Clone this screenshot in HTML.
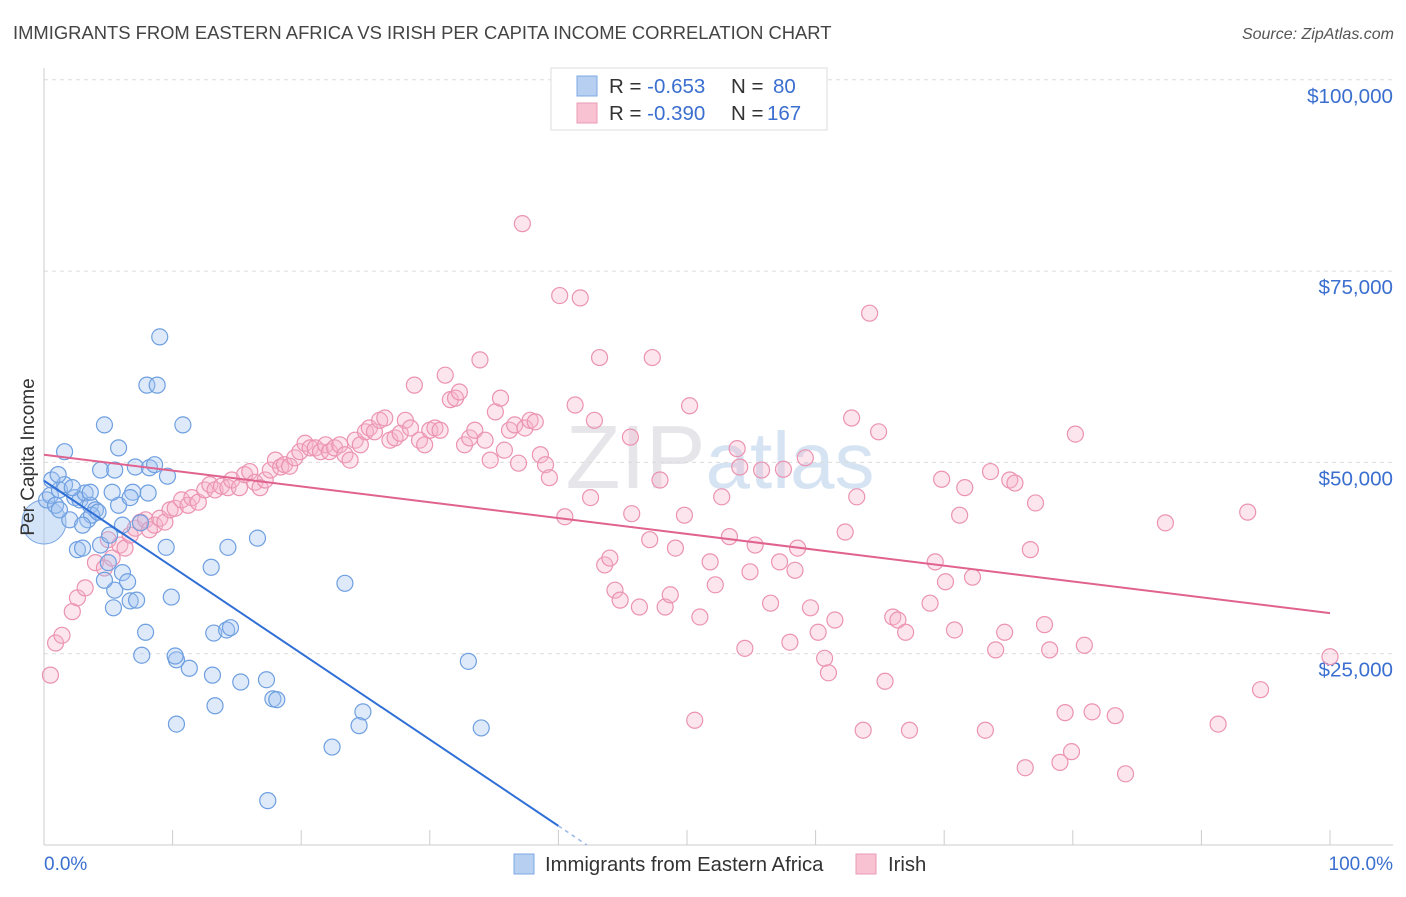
<!DOCTYPE html>
<html><head><meta charset="utf-8"><style>
body{margin:0;background:#fff;font-family:"Liberation Sans",sans-serif;}
svg text{font-family:"Liberation Sans",sans-serif;}
</style></head><body>
<svg id="chart" width="1406" height="892" xmlns="http://www.w3.org/2000/svg">
<text x="13" y="39" font-size="18.4" fill="#444">IMMIGRANTS FROM EASTERN AFRICA VS IRISH PER CAPITA INCOME CORRELATION CHART</text>
<text x="1394" y="39" font-size="16" fill="#555" text-anchor="end" font-style="italic">Source: ZipAtlas.com</text>
<text x="720" y="488" font-size="90" fill="#e6e6ea" text-anchor="middle" font-family="Liberation Serif">ZIP<tspan fill="#d5e3f3" font-family="Liberation Sans" font-size="80">atlas</tspan></text>
<g id="grid"></g>
<g id="axes"></g>
<g id="pts"></g>
<g id="trends"></g>
<text transform="translate(34,457) rotate(-90)" font-size="19" fill="#333" text-anchor="middle">Per Capita Income</text>
<text x="44" y="870" font-size="19" fill="#3a6fd0">0.0%</text>
<text x="1393" y="870" font-size="19" fill="#3a6fd0" text-anchor="end">100.0%</text>
<g>
<rect x="551" y="68" width="276" height="62" fill="#fff" stroke="#ddd"/>
<rect x="577" y="76" width="20" height="20" fill="#b7d0f2" stroke="#7ea9e3"/>
<rect x="577" y="103" width="20" height="20" fill="#f8c2d3" stroke="#eb9bb6"/>
<text x="609" y="93" font-size="20.5" fill="#333">R = <tspan fill="#3a6fd0">-0.653</tspan><tspan x="731">N = </tspan><tspan fill="#3a6fd0" x="773">80</tspan></text>
<text x="609" y="120" font-size="20.5" fill="#333">R = <tspan fill="#3a6fd0">-0.390</tspan><tspan x="731">N = </tspan><tspan fill="#3a6fd0" x="767">167</tspan></text>
</g>
<g>
<rect x="514" y="854" width="20" height="20" fill="#b7d0f2" stroke="#7ea9e3"/>
<text x="545" y="871" font-size="20.3" fill="#333">Immigrants from Eastern Africa</text>
<rect x="856" y="854" width="20" height="20" fill="#f8c2d3" stroke="#eb9bb6"/>
<text x="888" y="871" font-size="20.3" fill="#333">Irish</text>
</g>
</svg>
<script>
const yTicks=[25000,50000,75000,100000];
const yTickLabels=["$25,000","$50,000","$75,000","$100,000"];
const xTicks=[0,10,20,30,40,50,60,70,80,90,100];
const blueX=[0.2,0.5,0.9,1.2,1.6,0.6,1.1,1.6,2.4,2.8,3.2,3.6,4.0,4.4,3.4,3.7,4.2,2.0,2.6,3.0,4.4,4.7,5.8,5.5,5.8,6.1,5.1,5.0,5.5,6.1,6.5,6.7,5.4,6.9,7.1,8.1,8.2,8.6,9.6,8.0,8.8,9.0,10.8,7.5,9.5,9.9,7.9,7.6,10.3,11.3,10.2,13.0,14.3,16.6,13.2,14.2,14.5,13.1,13.3,15.3,17.3,17.8,18.1,10.3,23.4,24.8,24.5,22.4,17.4,33.0,34.0,7.2,4.7,3.6,2.2,1.2,3.0,5.3,6.7];
const blueY=[45.1,45.7,44.4,46.4,47.1,47.7,48.4,51.4,45.4,45.1,46.0,44.4,43.8,49.0,42.5,43.1,43.5,42.5,38.6,38.8,39.2,54.9,51.9,49.0,44.4,41.8,40.5,36.9,33.3,35.6,34.4,31.9,31.0,46.1,49.4,46.0,49.3,49.7,48.2,60.1,60.1,66.4,54.9,42.1,38.9,32.4,27.8,24.8,24.2,23.1,24.7,36.3,38.9,40.1,27.7,28.1,28.4,22.2,18.2,21.3,21.6,19.1,19.0,15.8,34.2,17.4,15.6,12.8,5.8,24.0,15.3,32.0,34.6,46.1,46.7,43.8,41.8,46.1,45.4];
const pinkX=[0.5,0.9,1.4,2.2,2.6,3.2,4.0,4.7,5.0,5.3,5.9,6.3,6.7,7.1,7.5,7.9,8.2,8.6,9.0,9.4,9.8,10.2,10.7,11.2,11.5,12.0,12.5,12.9,13.3,13.8,14.3,14.6,15.2,15.6,16.0,16.4,16.8,17.2,17.6,18.0,18.4,18.7,19.1,19.5,19.9,20.3,20.7,21.1,21.5,21.9,22.2,22.6,23.0,23.4,23.8,24.2,24.6,25.0,25.3,25.7,26.1,26.5,26.9,27.3,27.7,28.1,28.5,28.8,29.2,29.6,30.0,30.4,30.8,31.2,31.6,32.0,32.3,32.7,33.1,33.5,33.9,34.3,34.7,35.1,35.5,35.8,36.2,36.6,36.9,37.2,37.4,37.8,38.2,38.6,39.0,39.3,40.1,40.5,41.3,41.7,42.5,42.8,43.2,43.6,44.0,44.4,44.8,45.6,45.7,46.3,47.1,47.3,47.9,48.3,48.7,49.1,49.8,50.2,50.6,51.0,51.8,52.2,52.7,53.3,53.9,54.1,54.5,54.9,55.3,55.8,56.5,57.2,57.5,58.0,58.4,58.6,59.2,59.6,60.2,60.7,61.0,61.5,62.3,62.8,63.2,63.7,64.2,64.9,65.4,66.0,66.4,67.0,67.3,68.9,69.3,69.8,70.1,70.8,71.2,71.6,72.2,73.2,73.6,74.0,74.7,75.1,75.5,76.3,76.7,77.1,77.8,78.2,79.0,79.4,79.9,80.2,80.9,81.5,83.3,84.1,87.2,91.3,93.6,94.6,100.0];
const pinkY=[22.2,26.4,27.4,30.5,32.3,33.6,36.9,36.2,39.9,37.5,39.2,38.8,40.5,41.4,42.2,42.5,41.2,41.8,42.7,42.2,43.8,44.0,45.1,44.4,45.4,44.8,46.4,47.1,46.4,46.9,46.7,47.7,46.7,48.4,48.8,47.4,46.7,47.7,49.0,50.3,49.4,49.7,49.5,50.6,51.4,52.5,51.9,51.9,51.4,52.3,51.4,51.9,52.3,51.0,50.3,52.9,52.3,54.0,54.5,54.0,55.5,55.8,52.9,53.2,53.8,55.5,54.5,60.1,52.9,52.3,54.2,54.5,54.2,61.4,58.2,58.4,59.2,52.3,53.2,54.2,63.4,52.9,50.3,56.6,58.4,51.6,54.2,54.9,49.9,81.2,54.5,55.5,55.3,51.0,49.7,48.0,71.8,42.9,57.5,71.5,45.4,55.5,63.7,36.6,37.5,33.3,32.0,53.3,43.3,31.1,39.9,63.7,47.7,31.1,32.7,38.8,43.1,57.4,16.3,29.8,37.0,34.0,45.5,40.3,51.8,49.4,25.7,35.7,39.2,49.0,31.6,37.0,49.1,26.5,35.9,38.8,50.6,31.0,27.8,24.4,22.5,29.4,40.9,55.8,45.5,15.0,69.5,54.0,21.4,29.8,29.4,27.8,15.0,31.6,37.0,47.8,34.4,28.1,43.1,46.7,35.0,15.0,48.8,25.5,27.8,47.7,47.3,10.1,38.6,44.7,28.8,25.5,10.8,17.3,12.2,53.7,26.1,17.4,16.9,9.3,42.1,15.8,43.5,20.3,24.6];
const blueTrendX=[0,40];
const blueTrendY=[47.6,2.5];
const pinkTrendX=[0,100];
const pinkTrendY=[51.0,30.3];

const NS="http://www.w3.org/2000/svg";
const xs=v=>44+v*12.86;
const ys=v=>845-v/25*191.3; // v in thousands
function mk(tag,attrs,parent){const e=document.createElementNS(NS,tag);for(const k in attrs)e.setAttribute(k,attrs[k]);parent.appendChild(e);return e;}
const grid=document.getElementById('grid'),axes=document.getElementById('axes');
yTicks.forEach((t,i)=>{
 const y=ys(t/1000);
 const l=mk('line',{x1:44,x2:1393,y1:y,y2:y,stroke:'#dcdcdc','stroke-dasharray':'4,4'},grid);
 
 
 const tx=mk('text',{x:1393,y:y+23,'font-size':20.6,fill:'#3a6fd0','text-anchor':'end'},axes);
 tx.textContent=yTickLabels[i];
 
 
});
mk('line',{x1:44,x2:44,y1:68,y2:845,stroke:'#ccc'},axes);
mk('line',{x1:44,x2:1393,y1:845,y2:845,stroke:'#ccc'},axes);
xTicks.forEach(t=>{
 const l=mk('line',{x1:xs(t),x2:xs(t),y1:830,y2:845,stroke:'#ccc'},axes);
 
 
});
const pts=document.getElementById('pts');
const bc=mk('circle',{cx:44,cy:522,r:22,fill:'rgba(160,195,240,0.45)',stroke:'#7ea9e3'},pts);


pinkX.forEach((x,i)=>{
 const c=mk('circle',{cx:xs(x),cy:ys(pinkY[i]),r:8,fill:'rgba(246,180,202,0.35)',stroke:'#eb93b1','stroke-width':1.2},pts);
 
 
});
blueX.forEach((x,i)=>{
 const c=mk('circle',{cx:xs(x),cy:ys(blueY[i]),r:8,fill:'rgba(160,195,240,0.35)',stroke:'#6e9fe0','stroke-width':1.2},pts);
 
 
});
const tr=document.getElementById('trends');
const bl=mk('line',{x1:xs(blueTrendX[0]),y1:ys(blueTrendY[0]),x2:xs(blueTrendX[1]),y2:ys(blueTrendY[1]),stroke:'#2f6fd6','stroke-width':2},tr);


const slope=(blueTrendY[1]-blueTrendY[0])/(blueTrendX[1]-blueTrendX[0]);
const xEnd=blueTrendX[1]+(0-blueTrendY[1])/slope;
const bd=mk('line',{x1:xs(blueTrendX[1]),y1:ys(blueTrendY[1]),x2:xs(xEnd),y2:ys(0),stroke:'#9bb8e8','stroke-width':1.5,'stroke-dasharray':'4,4'},tr);


const pl=mk('line',{x1:xs(pinkTrendX[0]),y1:ys(pinkTrendY[0]),x2:xs(pinkTrendX[1]),y2:ys(pinkTrendY[1]),stroke:'#e0628f','stroke-width':2},tr);


</script>
</body></html>
